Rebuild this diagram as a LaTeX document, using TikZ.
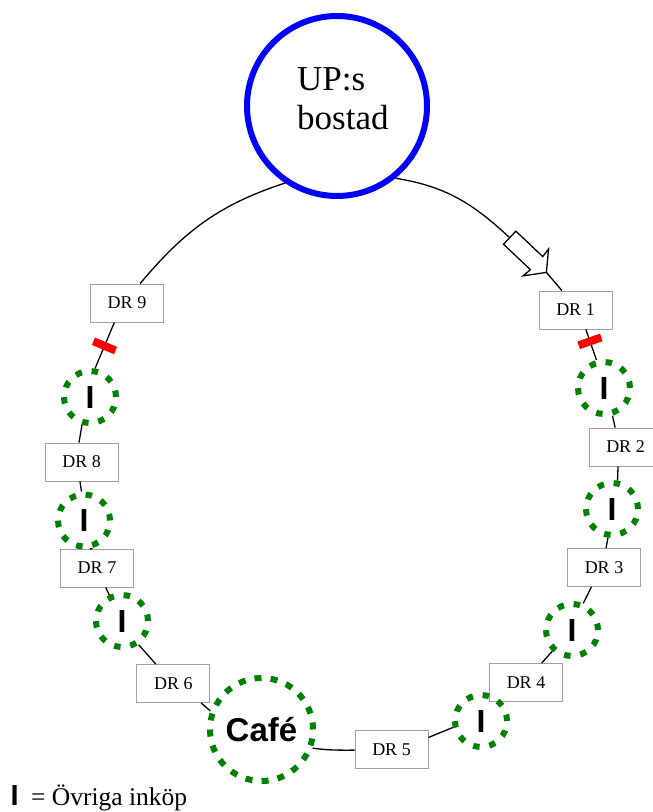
\documentclass[tikz,border=0pt]{standalone}
\usepackage{fontspec}
\setmainfont{Liberation Serif}
\setsansfont{Liberation Sans}
\definecolor{dgreen}{HTML}{008000}
\definecolor{upblue}{HTML}{0000FF}
\definecolor{boxgray}{HTML}{A0A0A0}
\begin{document}
\begin{tikzpicture}[x=1pt,y=1pt,
  drbox/.style={draw=boxgray, line width=0.9pt, fill=white, minimum width=73pt, minimum height=38pt, inner sep=0pt, font=\fontsize{18}{20}\selectfont},
  icirc/.style={circle, draw=dgreen, line width=6pt, dash pattern=on 6.5pt off 9.84pt, minimum size=52pt, inner sep=0pt, font=\sffamily\bfseries\fontsize{32}{34}\selectfont},
  cafecirc/.style={circle, draw=dgreen, line width=6pt, dash pattern=on 7pt off 9.18pt, minimum size=103pt, inner sep=0pt, font=\sffamily\bfseries\fontsize{33}{35}\selectfont},
  upcirc/.style={circle, draw=upblue, line width=6pt, minimum size=180pt, inner sep=0pt},
  uptext/.style={anchor=base west, inner sep=0pt, font=\fontsize{35}{40}\selectfont},
  conn/.style={line width=1.3pt, black},
  redbar/.style={fill=red, draw=none, minimum width=8pt, minimum height=24pt, inner sep=0pt, sloped},
  fatarrow/.style={line width=1.3pt, fill=white, line join=miter}
]
\useasboundingbox (0,0) rectangle (653,812);

% home
\node[upcirc] (up) at (337,706) {};
\node[uptext] (upl1) at (297,721) {UP:s};
\node[uptext] (upl2) at (297,682) {bostad};

% DR boxes
\node[drbox] (dr1) at (575.5,502) {DR 1};
\node[drbox] (dr2) at (625.5,365) {DR 2};
\node[drbox] (dr3) at (604,244.5) {DR 3};
\node[drbox] (dr4) at (526,129.5) {DR 4};
\node[drbox] (dr5) at (391.5,62.5) {DR 5};
\node[drbox] (dr6) at (173.3,128.5) {DR 6};
\node[drbox] (dr7) at (97,244) {DR 7};
\node[drbox] (dr8) at (81.7,350) {DR 8};
\node[drbox] (dr9) at (127,509) {DR 9};

% purchase circles
\node[icirc] (r1) at (604,424) {I};
\node[icirc] (r2) at (612,303) {I};
\node[icirc] (r3) at (572,182) {I};
\node[icirc] (r4) at (481,91) {I};
\node[icirc] (l1) at (90,415) {I};
\node[icirc] (l2) at (84,291.5) {I};
\node[icirc] (l3) at (122,191) {I};
\node[cafecirc] (cafe) at (261.5,82.5) {Café};

% arrow
\coordinate (atail) at (509.7,574.3);
\coordinate (atip) at (546.5,539.5);
\begin{scope}[shift={(atail)}, rotate=-43.4]
  \draw[fatarrow] (0,9) -- (37,9) -- (36,18.5) -- (50.5,0) -- (36,-18.5) -- (37,-9) -- (0,-9) -- cycle;
\end{scope}

% connectors
\draw[conn] (up.-51) to[out=-9,in=137] (atail);
\draw[conn] (atip) -- (dr1.125);
\draw[conn] (dr1.-62) -- node[redbar,pos=0.39]{} (r1.105);
\draw[conn] (r1.-73) -- (dr2.118);
\draw[conn] (dr2.-111) -- (r2.79);
\draw[conn] (r2.-98) -- (dr3.84);
\draw[conn] (dr3.-123) -- (r3.67);
\draw[conn] (r3.-133) -- (dr4.51);
\draw[conn] (r4.-167) -- (dr5.18);
\draw[conn] (dr5.181) to[out=180,in=-8] (cafe.-20);
\draw[conn] (cafe.160) -- (dr6.-35);
\draw[conn] (dr6.132) -- (l3.-55);
\draw[conn] (l3.116) -- (dr7.-66);
\draw[conn] (dr7.103) -- (l2.-78);
\draw[conn] (l2.95) -- (dr8.-95);
\draw[conn] (dr8.98) -- (l1.-106);
\draw[conn] (l1.80) -- node[redbar,pos=0.49]{} (dr9.-123);
\draw[conn] (dr9.56) to[out=50,in=198] (up.-124);

% legend
\node[anchor=base west, inner sep=0pt, font=\sffamily\bfseries\fontsize{29}{30}\selectfont] (legi) at (10.5,6) {I};
\node[anchor=base west, inner sep=0pt, font=\fontsize{25.5}{27}\selectfont] (legt) at (31,6) {= Övriga inköp};
\end{tikzpicture}
\end{document}
